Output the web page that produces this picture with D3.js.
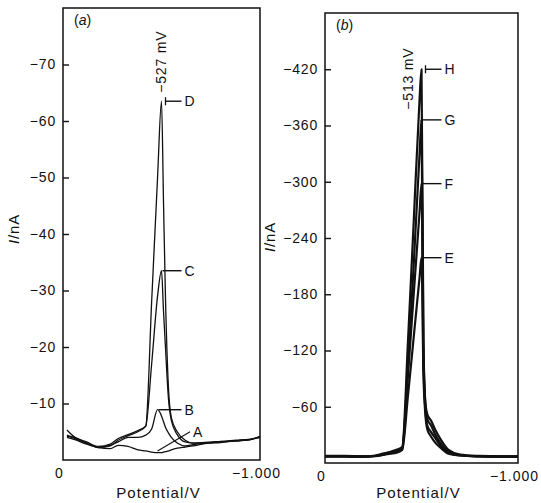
<!DOCTYPE html>
<html>
<head>
<meta charset="utf-8">
<script src="https://cdn.jsdelivr.net/npm/d3@7"></script>
<style>
	body { margin: 0; background: #fff; }
	svg text { font-family: "Liberation Sans", Arial, Helvetica, sans-serif; fill: #111; }
</style>
</head>
<body>
<svg id="chart" width="541" height="503"></svg>
<script>
// panel (a): potential in V, current in nA
const potA = [-0.02, -0.06, -0.12, -0.18, -0.24, -0.28, -0.33, -0.38, -0.42, -0.45, -0.48, -0.50,
	-0.51, -0.52, -0.535, -0.55, -0.58, -0.62, -0.66, -0.72, -0.80, -0.88, -0.95, -1.00];
const curveD = [-5.3, -4.0, -3.2, -2.4, -2.8, -3.8, -4.5, -5.2, -6.0, -28, -50, -63.5,
	-46, -29, -13, -7.5, -5.0, -3.5, -3.0, -3.0, -3.2, -3.4, -3.6, -4.2];
const curveC = [-4.2, -4.0, -3.0, -2.2, -2.5, -3.5, -4.3, -5.0, -6.0, -17, -29, -33.5,
	-26.5, -20, -11, -7.0, -4.5, -3.2, -3.0, -3.1, -3.3, -3.5, -3.7, -4.0];
const curveB = [-4.0, -3.6, -2.8, -2.3, -2.6, -3.2, -4.0, -4.0, -4.4, -5.5, -8.9, -7.8,
	-6.8, -5.8, -4.8, -4.0, -3.0, -2.5, -2.7, -3.0, -3.2, -3.4, -3.6, -4.0];
const curveA = [-4.4, -3.8, -3.0, -2.2, -2.0, -2.6, -2.4, -1.8, -1.6, -1.4, -1.3, -1.3,
	-1.4, -1.5, -1.6, -1.8, -2.1, -2.3, -2.5, -2.9, -3.1, -3.4, -3.6, -4.2];
const namesA = ["D", "C", "B", "A"];
const ticksA = [-10, -20, -30, -40, -50, -60, -70];

// panel (b)
const potB = [0, -0.10, -0.20, -0.26, -0.30, -0.34, -0.37, -0.40, -0.43, -0.46, -0.49, -0.50,
	-0.51, -0.52, -0.53, -0.55, -0.57, -0.60, -0.64, -0.70, -0.80, -0.90, -1.00];
const curveH = [-7.5, -7.5, -7.0, -8.0, -10, -12, -14, -17, -130, -259, -388, -420,
	-130, -65, -52, -45, -36, -25, -14, -9, -7.5, -7.0, -7.0];
const curveG = [-7.0, -7.0, -6.8, -7.5, -9, -11, -13, -16, -104, -213, -330, -366,
	-120, -62, -47, -40, -31, -21, -12, -8.5, -7.2, -6.8, -6.8];
const curveF = [-7.0, -7.0, -6.8, -7.5, -9, -11, -12, -15, -94, -181, -268, -298,
	-110, -57, -40, -33, -27, -18, -11, -8, -7, -6.7, -6.7];
const curveE = [-7.0, -7.0, -6.8, -7.3, -8.5, -10, -11, -14, -72, -135, -198, -219,
	-95, -52, -36, -28, -22, -16, -10, -8, -7, -6.7, -6.7];
const namesB = ["H", "G", "F", "E"];
const ticksB = [-60, -120, -180, -240, -300, -360, -420];

const xTicks = [0, -1];

let svg = d3.select("#chart");

function fmtY(d) {
	return "\u2212" + Math.abs(d);
}

function fmtX(d) {
	return d === 0 ? "0" : "\u2212" + Math.abs(d).toFixed(3);
}

function drawPanel(p) {
	let x = d3.scaleLinear().domain([0, -1]).range([p.left, p.right]);
	let y = d3.scaleLinear().domain([0, p.yMax]).range([p.bottom, p.top]);

	let g = svg.append("g");

	// frame
	g.append("rect")
		.attr("x", p.left)
		.attr("y", p.top)
		.attr("width", p.right - p.left)
		.attr("height", p.bottom - p.top)
		.attr("fill", "none")
		.attr("stroke", "#111")
		.attr("stroke-width", 1.5);

	// y axis, ticks point inwards
	let yAxis = g.append("g")
		.attr("transform", "translate(" + p.left + ",0)")
		.call(d3.axisLeft(y).tickValues(p.ticks).tickFormat(fmtY).tickSize(-6).tickPadding(7));
	yAxis.select(".domain").remove();
	yAxis.selectAll("line").attr("stroke", "#111").attr("stroke-width", 1.4);
	yAxis.selectAll("text")
		.attr("font-size", 14)
		.attr("letter-spacing", "0.8px")
		.style("font-family", "'Liberation Sans', Arial, sans-serif");

	// x axis, labels only
	let xAxis = g.append("g")
		.attr("transform", "translate(-4," + p.bottom + ")")
		.call(d3.axisBottom(x).tickValues(xTicks).tickFormat(fmtX).tickSize(0).tickPadding(8));
	xAxis.select(".domain").remove();
	xAxis.selectAll("text")
		.attr("font-size", 14)
		.attr("letter-spacing", "1px")
		.style("font-family", "'Liberation Sans', Arial, sans-serif");

	g.append("text")
		.attr("x", (p.left + p.right) / 2 - 3)
		.attr("y", 498)
		.attr("text-anchor", "middle")
		.attr("font-size", 15)
		.attr("letter-spacing", "1.1px")
		.text("Potential/V");

	let yl = g.append("text")
		.attr("transform", "translate(" + p.yLabelX + "," + p.yLabelY + ") rotate(-90)")
		.attr("text-anchor", "middle")
		.attr("dy", "0.35em")
		.attr("font-size", 15)
		.attr("letter-spacing", "0.8px");
	yl.append("tspan").attr("font-style", "italic").text("I");
	yl.append("tspan").text("/nA");

	g.append("text")
		.attr("x", p.left + 11)
		.attr("y", p.top + 17)
		.attr("font-size", 14)
		.html("(<tspan font-style='italic'>" + p.tag + "</tspan>)");

	// the traces
	let line = d3.line()
		.x(function (d) { return x(d[0]); })
		.y(function (d) { return y(d[1]); })
		.curve(d3.curveMonotoneX);

	p.series.forEach(function (s) {
		g.append("path")
			.datum(p.pot.map(function (v, i) { return [v, s[i]]; }))
			.attr("fill", "none")
			.attr("stroke", "#111")
			.attr("stroke-width", p.width)
			.attr("stroke-linejoin", "round")
			.attr("d", line);
	});

	// letters and leaders
	let top = p.series[0];
	let topIdx = d3.minIndex(top);
	let labelX = x(p.pot[topIdx]) + 23;
	p.series.forEach(function (s, k) {
		let i = d3.minIndex(s);
		let px = x(p.pot[i]), py = y(s[i]);
		if (p.names[k] === "A") {
			// slanted leader for the flat trace
			g.append("line")
				.attr("x1", x(p.leaderA[0])).attr("y1", y(p.leaderA[1]))
				.attr("x2", x(p.leaderA[2])).attr("y2", y(p.leaderA[3]))
				.attr("stroke", "#111").attr("stroke-width", 1.1);
			g.append("text")
				.attr("x", x(p.leaderA[2]) + 3)
				.attr("y", y(p.leaderA[3]))
				.attr("dy", "0.35em")
				.attr("font-size", 14)
				.text("A");
			return;
		}
		let x0 = px + 1;
		if (k === 0) {
			x0 = px + 4;
			g.append("line")
				.attr("x1", x0).attr("x2", x0)
				.attr("y1", py - 4).attr("y2", py + 4)
				.attr("stroke", "#111").attr("stroke-width", 1.3);
		}
		g.append("line")
			.attr("x1", x0).attr("x2", labelX - 3)
			.attr("y1", py).attr("y2", py)
			.attr("stroke", "#111").attr("stroke-width", 1.4);
		g.append("text")
			.attr("x", labelX)
			.attr("y", py)
			.attr("dy", "0.35em")
			.attr("font-size", 14)
			.text(p.names[k]);
	});

	// peak potential, written upright
	g.append("text")
		.attr("transform", "translate(" + x(p.peakAt[0]) + "," + y(p.peakAt[1]) + ") rotate(-90)")
		.attr("text-anchor", p.peakAnchor)
		.attr("dy", "0.35em")
		.attr("font-size", 14)
		.attr("letter-spacing", "0.8px")
		.text(p.peakText);
}

drawPanel({
	left: 63, right: 260, top: 8, bottom: 460,
	yMax: -80, ticks: ticksA, tag: "a",
	pot: potA, series: [curveD, curveC, curveB, curveA], names: namesA,
	width: 1.3,
	leaderA: [-0.48, -1.6, -0.645, -5.0],
	peakAt: [-0.50, -65], peakAnchor: "start", peakText: "\u2212527 mV",
	yLabelX: 14, yLabelY: 229
});

drawPanel({
	left: 325, right: 518, top: 13, bottom: 463,
	yMax: -480, ticks: ticksB, tag: "b",
	pot: potB, series: [curveH, curveG, curveF, curveE], names: namesB,
	width: 2.2,
	peakAt: [-0.428, -410], peakAnchor: "middle", peakText: "\u2212513 mV",
	yLabelX: 270, yLabelY: 237
});
</script>
</body>
</html>
